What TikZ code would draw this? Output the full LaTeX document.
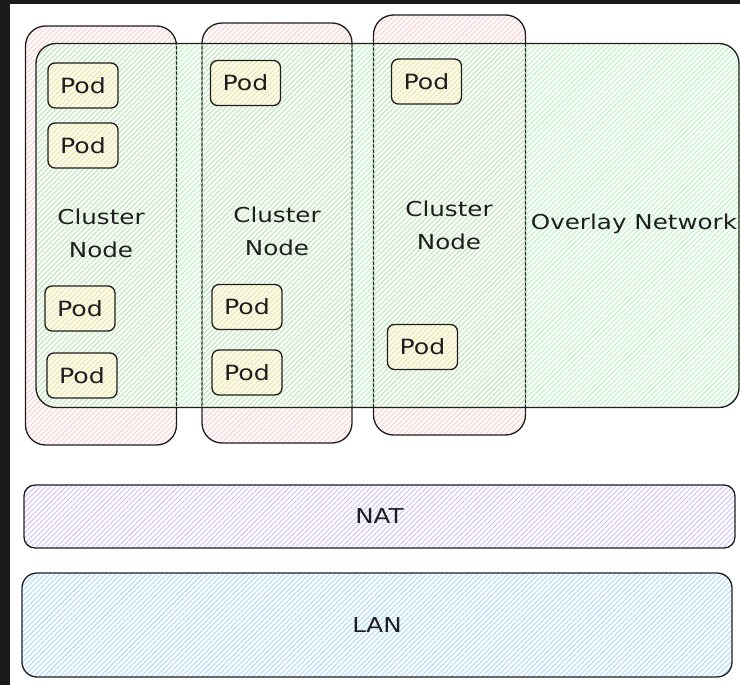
\documentclass[tikz,border=0pt]{standalone}
\usepackage{fontspec}
\setmainfont[FakeStretch=1.2]{DejaVu Sans}
\usetikzlibrary{patterns.meta}

\definecolor{framedark}{HTML}{1B1B1B}
\definecolor{ink}{HTML}{1E1E1E}
\definecolor{hatchred}{HTML}{FFC9C9}
\definecolor{hatchgreen}{HTML}{B2F2BB}
\definecolor{hatchyellow}{HTML}{FFEC99}
\definecolor{hatchviolet}{HTML}{D0BFFF}
\definecolor{hatchblue}{HTML}{A5D8FF}

\tikzset{
  hatch/.style={pattern={Lines[angle=45,distance=3.6pt,line width=0.9pt]}, pattern color=#1},
  sketch/.style={draw=ink, line width=1.3pt},
  bigbox/.style={sketch, rectangle, rounded corners=20pt, inner sep=0pt},
  podbox/.style={sketch, rectangle, rounded corners=7pt, inner sep=0pt,
    hatch=hatchyellow, minimum width=70pt, minimum height=45pt,
    font=\fontsize{21}{23}\selectfont, text=ink},
  lbl/.style={font=\fontsize{20.5}{33}\selectfont, text=ink, align=center},
}

\begin{document}
\begin{tikzpicture}[x=1pt,y=-1pt]
\useasboundingbox (0,0) rectangle (740,685);
\fill[white] (0,0) rectangle (740,685);
\fill[framedark] (0,0) rectangle (740,4);
\fill[framedark] (0,0) rectangle (10,685);

% cluster nodes
\node[bigbox, hatch=hatchred, minimum width=151pt, minimum height=419pt] (cn1) at (101,235.5) {};
\node[bigbox, hatch=hatchred, minimum width=150pt, minimum height=420pt] (cn2) at (277,233) {};
\node[bigbox, hatch=hatchred, minimum width=152pt, minimum height=420pt] (cn3) at (449.5,225) {};

% overlay network spanning the cluster nodes
\node[bigbox, hatch=hatchgreen, minimum width=703pt, minimum height=364pt] (overlay) at (387.5,225.5) {};
\node[lbl] (overlaylbl) at (634,224) {Overlay Network};

% cluster node captions
\node[lbl] (cn1lbl) at (101,233) {Cluster\\Node};
\node[lbl] (cn2lbl) at (277,231) {Cluster\\Node};
\node[lbl] (cn3lbl) at (449,225) {Cluster\\Node};

% pods
\node[podbox] (p11) at (83,85.5) {Pod};
\node[podbox] (p12) at (83,145.5) {Pod};
\node[podbox] (p13) at (80,308.5) {Pod};
\node[podbox] (p14) at (82,375.5) {Pod};
\node[podbox] (p21) at (245.5,83) {Pod};
\node[podbox] (p22) at (247,307) {Pod};
\node[podbox] (p23) at (247,372.5) {Pod};
\node[podbox] (p31) at (426.5,81.5) {Pod};
\node[podbox] (p32) at (422.5,347) {Pod};

% NAT and LAN layers
\node[bigbox, rounded corners=11pt, hatch=hatchviolet, minimum width=711pt, minimum height=63pt,
  lbl] (nat) at (379.5,516.5) {NAT};
\node[bigbox, rounded corners=15pt, hatch=hatchblue, minimum width=710pt, minimum height=104pt,
  lbl] (lan) at (377,625) {LAN};
\end{tikzpicture}
\end{document}
